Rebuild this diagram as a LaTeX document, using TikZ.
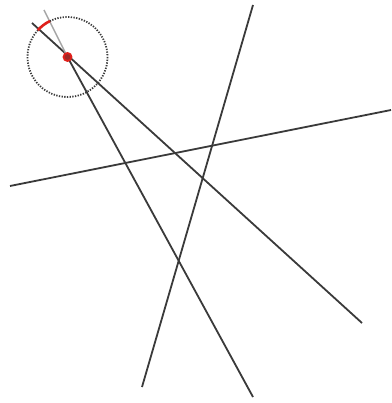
\documentclass[tikz,border=0pt]{standalone}
\usepackage{tikz}
\usetikzlibrary{calc}
\definecolor{Ink}{HTML}{3A3A3A}
\definecolor{Mark}{HTML}{E0201B}

\begin{document}
\begin{tikzpicture}[x=1pt,y=-1pt,
    line/.style={draw=Ink,line width=1.8pt},
    faint/.style={draw=Ink!45,line width=1.5pt},
    ring/.style={draw=Ink,line width=1.8pt,dash pattern=on 1.3pt off 1.4pt},
    angmark/.style={draw=Mark,line width=2.6pt}]
  \useasboundingbox (0,0) rectangle (391,403);
  % centre of the small circle
  \coordinate (O) at (67.5,57);
  \coordinate (a1) at (32,23);
  \coordinate (a2) at (362,323);
  \coordinate (b1) at (44,10);
  \coordinate (b2) at (253,397);
  \coordinate (c1) at (253,5);
  \coordinate (c2) at (142,387);
  \coordinate (d1) at (10,186);
  \coordinate (d2) at (391,110);
  % lines
  \draw[line] (a1) -- (a2);
  \draw[faint] (b1) -- (O);
  \draw[line] (O) -- (b2);
  \draw[line] (c1) -- (c2);
  \draw[line] (d1) -- (d2);
  % circle and angle mark
  \draw[ring] (O) circle (40);
  \draw[angmark] ($(O)+(222:40)$) arc (222:244:40);
  \node[circle,draw=Mark,fill=Mark!60!Ink,line width=1.8pt,inner sep=0pt,minimum size=8pt] (P) at (O) {};
\end{tikzpicture}
\end{document}
